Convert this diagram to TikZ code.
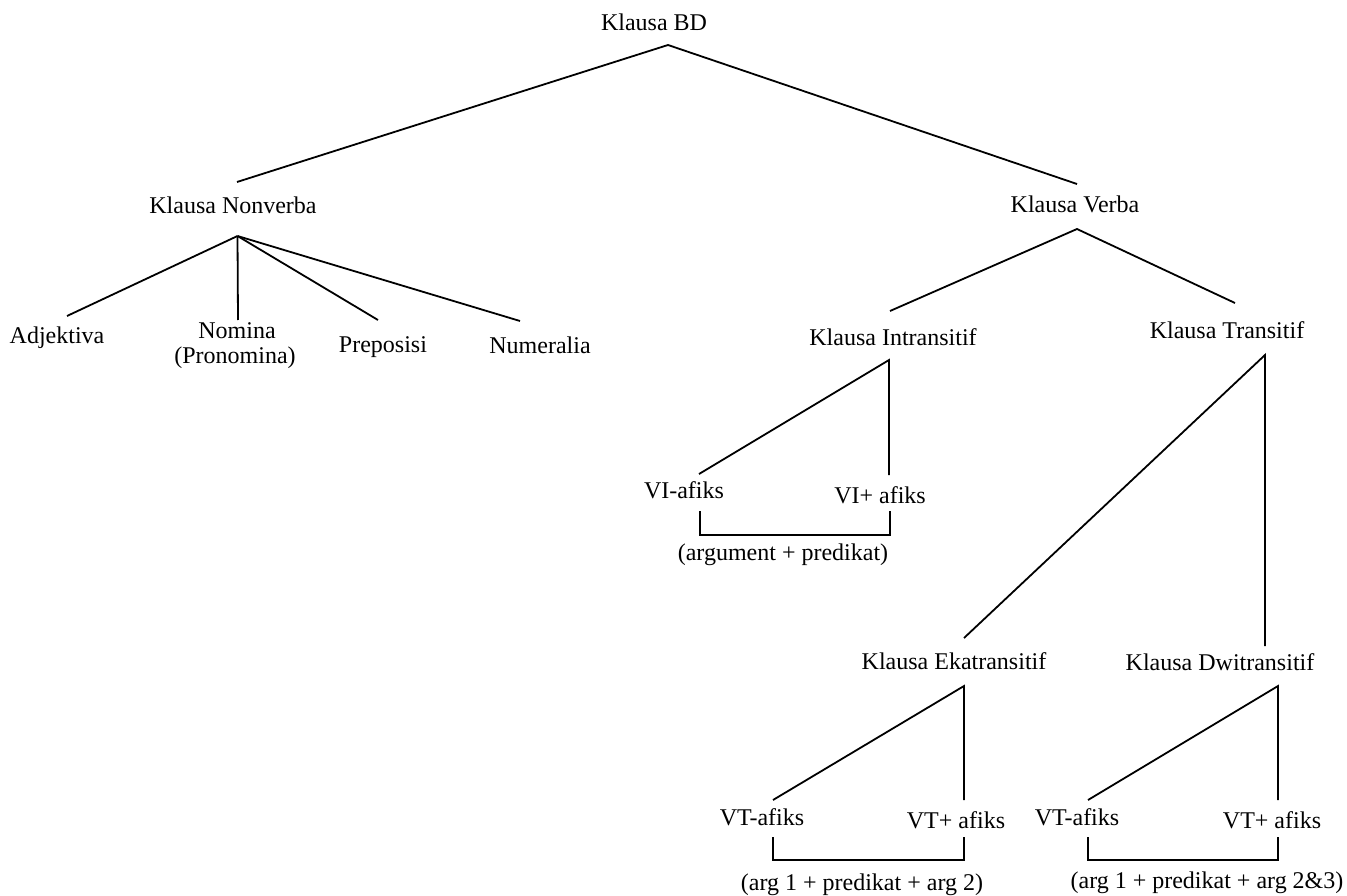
\documentclass[tikz,border=0pt]{standalone}
\usepackage{fontspec}
\setmainfont{Liberation Serif}
\begin{document}
\begin{tikzpicture}[x=1pt,y=-1pt,
  lbl/.style={anchor=base, inner sep=0pt, font=\fontsize{24}{25}\selectfont},
  branch/.style={line width=1.8pt, line join=miter},
  bracket/.style={line width=1.8pt, line join=miter}]
\useasboundingbox (0,0) rectangle (1347,896);

% ---- labels ----
\node[lbl] (bd)    at (654,31)  {Klausa BD};
\node[lbl] (nonv)  at (233,214) {Klausa Nonverba};
\node[lbl] (verba) at (1075,213) {Klausa Verba};
\node[lbl] (adj)   at (57,343)  {Adjektiva};
\node[lbl] (nom)   at (237,338) {Nomina};
\node[lbl] (pron)  at (235,363) {(Pronomina)};
\node[lbl] (prep)  at (383,352) {Preposisi};
\node[lbl] (num)   at (540,353) {Numeralia};
\node[lbl] (intr)  at (893,345) {Klausa Intransitif};
\node[lbl] (trans) at (1227,338) {Klausa Transitif};
\node[lbl] (vim)   at (684,498) {VI-afiks};
\node[lbl] (vip)   at (880,503) {VI+ afiks};
\node[lbl] (viarg) at (783,560) {(argument + predikat)};
\node[lbl] (eka)   at (954,669) {Klausa Ekatransitif};
\node[lbl] (dwi)   at (1220,670) {Klausa Dwitransitif};
\node[lbl] (ekam)  at (762,825) {VT-afiks};
\node[lbl] (ekap)  at (956,828) {VT+ afiks};
\node[lbl] (ekaarg) at (862,890) {(arg 1 + predikat + arg 2)};
\node[lbl] (dwim)  at (1077,825) {VT-afiks};
\node[lbl] (dwip)  at (1272,828) {VT+ afiks};
\node[lbl] (dwiarg) at (1207,888) {(arg 1 + predikat + arg 2\&3)};

% ---- branch points (s = below a label, n = above a label) ----
\coordinate (bd-s)    at (668,45);
\coordinate (nonv-n)  at (237,182);
\coordinate (verba-n) at (1077,184);
\coordinate (nonv-s)  at (237.5,236);
\coordinate (adj-n)   at (67,316);
\coordinate (nom-n)   at (238,320);
\coordinate (prep-n)  at (378,320);
\coordinate (num-n)   at (520,321);
\coordinate (verba-s) at (1077,229);
\coordinate (intr-n)  at (890,311);
\coordinate (trans-n) at (1235,303);
\coordinate (intr-s)  at (889,360);
\coordinate (vim-n)   at (699,474);
\coordinate (vip-n)   at (889,475);
\coordinate (vim-s)   at (700,511);
\coordinate (vip-s)   at (890,511);
\coordinate (trans-s) at (1265,355);
\coordinate (eka-n)   at (964,638);
\coordinate (dwi-n)   at (1265,646);
\coordinate (eka-s)   at (964,686);
\coordinate (ekam-n)  at (773,800);
\coordinate (ekap-n)  at (964,800);
\coordinate (ekam-s)  at (773,837);
\coordinate (ekap-s)  at (964,837);
\coordinate (dwi-s)   at (1278,686);
\coordinate (dwim-n)  at (1088,800);
\coordinate (dwip-n)  at (1278,800);
\coordinate (dwim-s)  at (1088,837);
\coordinate (dwip-s)  at (1278,837);

% ---- tree branches ----
\draw[branch] (nonv-n) -- (bd-s) -- (verba-n);
\draw[branch] (nonv-s) -- (adj-n);
\draw[branch] (nonv-s) -- (nom-n);
\draw[branch] (nonv-s) -- (prep-n);
\draw[branch] (nonv-s) -- (num-n);
\draw[branch] (intr-n) -- (verba-s) -- (trans-n);
\draw[branch] (vim-n) -- (intr-s) -- (vip-n);
\draw[branch] (eka-n) -- (trans-s) -- (dwi-n);
\draw[branch] (ekam-n) -- (eka-s) -- (ekap-n);
\draw[branch] (dwim-n) -- (dwi-s) -- (dwip-n);

% ---- brackets joining the verb forms ----
\draw[bracket] (vim-s) -- ++(0,24) -| (vip-s);
\draw[bracket] (ekam-s) -- ++(0,23) -| (ekap-s);
\draw[bracket] (dwim-s) -- ++(0,23) -| (dwip-s);
\end{tikzpicture}
\end{document}
